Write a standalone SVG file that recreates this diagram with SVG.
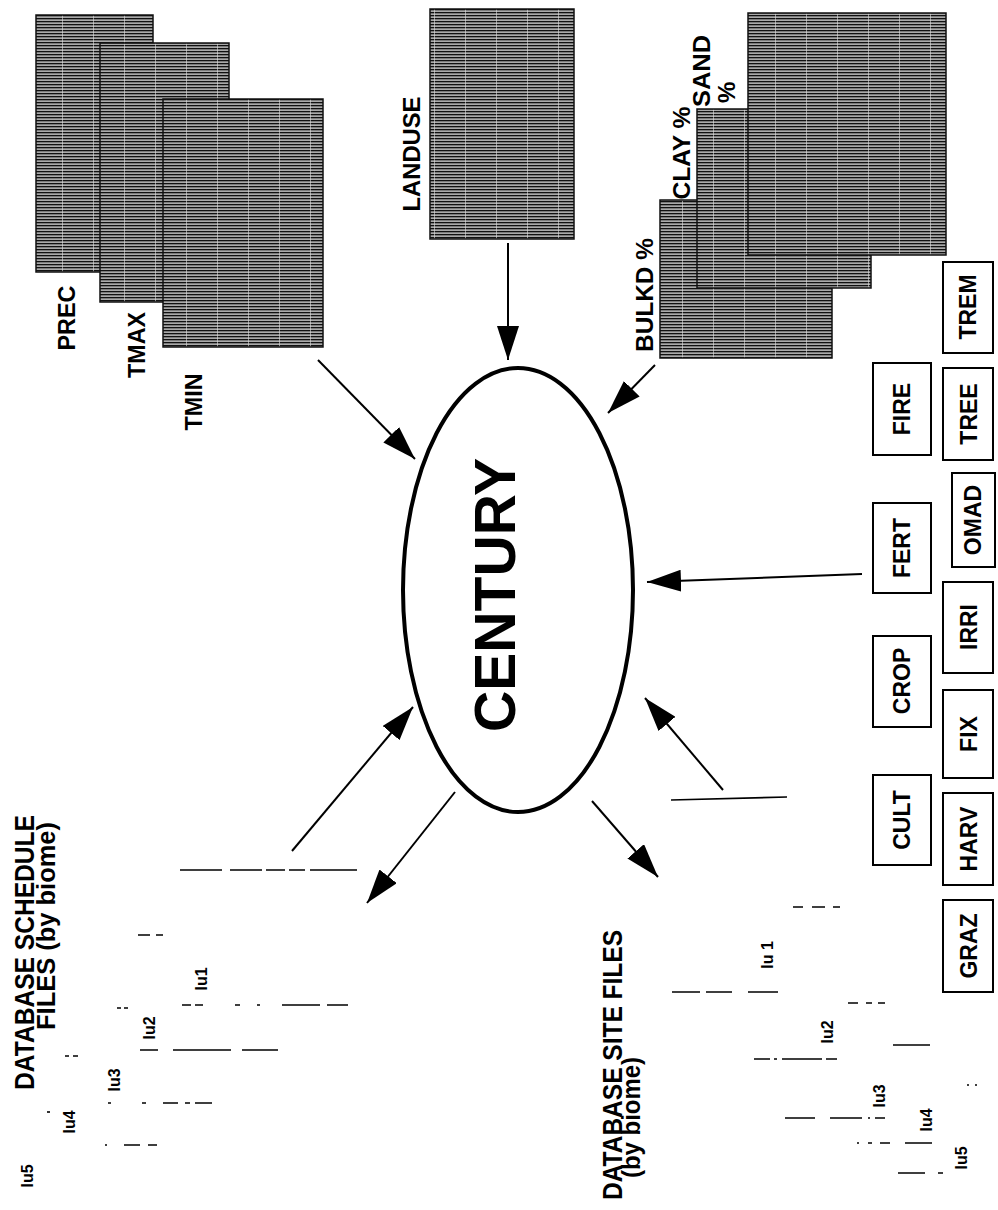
<svg xmlns="http://www.w3.org/2000/svg" width="998" height="1210" viewBox="0 0 998 1210">
  <style>
    .lbl { font-family: "Liberation Sans", Arial, sans-serif; font-weight: bold; fill: #000; }
    .lu { font-family: "Liberation Sans", Arial, sans-serif; font-weight: bold; font-size: 16px; fill: #000; }
    .grid { fill: url(#hatch); stroke: #111; stroke-width: 1.5; }
    .box { fill: #fff; stroke: #000; stroke-width: 2; }
    .conn { stroke: #000; stroke-width: 2; fill: none; }
    .rec { stroke: #000; stroke-width: 1.6; fill: none; }
  </style>
  <defs>
    <!-- scanned raster-map texture: dense dark scan lines with faint column seams -->
    <pattern id="hatch" patternUnits="userSpaceOnUse" width="31" height="3">
      <rect width="31" height="3" fill="#a9a9a9"/>
      <rect width="31" height="1.3" fill="#111"/>
      <rect width="1" height="3" fill="#e0e0e0" opacity="0.6"/>
    </pattern>
    <marker id="head" markerUnits="userSpaceOnUse" markerWidth="34" markerHeight="22" refX="34" refY="11" orient="auto">
      <path d="M0,0 L34,11 L0,22 Z" fill="#000"/>
    </marker>
  </defs>
  <rect width="998" height="1210" fill="#fff"/>

  <!-- climate layers -->
  <g id="prec">
    <rect class="grid" x="36" y="15" width="117" height="257"/>
    <text class="lbl" font-size="24" text-anchor="middle" textLength="65" lengthAdjust="spacingAndGlyphs" transform="translate(75,318) rotate(-90)">PREC</text>
  </g>
  <g id="tmax">
    <rect class="grid" x="100" y="43" width="129" height="259"/>
    <text class="lbl" font-size="24" text-anchor="middle" textLength="66" lengthAdjust="spacingAndGlyphs" transform="translate(145,345) rotate(-90)">TMAX</text>
  </g>
  <g id="tmin">
    <rect class="grid" x="163" y="99" width="160" height="248"/>
    <text class="lbl" font-size="24" text-anchor="middle" textLength="57" lengthAdjust="spacingAndGlyphs" transform="translate(202,402) rotate(-90)">TMIN</text>
  </g>

  <!-- land use layer -->
  <g id="landuse">
    <rect class="grid" x="430" y="9" width="144" height="230"/>
    <text class="lbl" font-size="24" text-anchor="middle" textLength="115" lengthAdjust="spacingAndGlyphs" transform="translate(420,154) rotate(-90)">LANDUSE</text>
  </g>

  <!-- soil layers -->
  <g id="bulkd">
    <rect class="grid" x="660" y="200" width="172" height="158"/>
    <text class="lbl" font-size="24" text-anchor="middle" textLength="114" lengthAdjust="spacingAndGlyphs" transform="translate(653,295) rotate(-90)">BULKD %</text>
  </g>
  <g id="clay">
    <rect class="grid" x="697" y="109" width="174" height="179"/>
    <text class="lbl" font-size="24" text-anchor="middle" textLength="93" lengthAdjust="spacingAndGlyphs" transform="translate(690,153) rotate(-90)">CLAY %</text>
  </g>
  <g id="sand">
    <rect class="grid" x="748" y="13" width="198" height="242"/>
    <text class="lbl" font-size="24" text-anchor="start" textLength="72" lengthAdjust="spacingAndGlyphs" transform="translate(710,107) rotate(-90)">SAND</text>
    <text class="lbl" font-size="24" text-anchor="start" transform="translate(735,103) rotate(-90)">%</text>
  </g>

  <!-- model -->
  <g id="century">
    <ellipse cx="518" cy="590" rx="115" ry="222" fill="#fff" stroke="#000" stroke-width="4"/>
    <text class="lbl" font-size="57" text-anchor="middle" textLength="274" lengthAdjust="spacingAndGlyphs" transform="translate(515,595) rotate(-90)">CENTURY</text>
  </g>

  <!-- management event files -->
  <g id="fire"><rect class="box" x="873" y="363" width="58" height="92"/><text class="lbl" font-size="23" text-anchor="middle" transform="translate(910,409) rotate(-90)">FIRE</text></g>
  <g id="fert"><rect class="box" x="873" y="503" width="58" height="90"/><text class="lbl" font-size="23" text-anchor="middle" transform="translate(910,548) rotate(-90)">FERT</text></g>
  <g id="crop"><rect class="box" x="873" y="636" width="58" height="91"/><text class="lbl" font-size="23" text-anchor="middle" transform="translate(910,681) rotate(-90)">CROP</text></g>
  <g id="cult"><rect class="box" x="873" y="775" width="58" height="90"/><text class="lbl" font-size="23" text-anchor="middle" transform="translate(910,820) rotate(-90)">CULT</text></g>
  <g id="trem"><rect class="box" x="943" y="262" width="50" height="91"/><text class="lbl" font-size="23" text-anchor="middle" transform="translate(976,307) rotate(-90)">TREM</text></g>
  <g id="tree"><rect class="box" x="943" y="368" width="50" height="92"/><text class="lbl" font-size="23" text-anchor="middle" transform="translate(977,414) rotate(-90)">TREE</text></g>
  <g id="omad"><rect class="box" x="952" y="473" width="43" height="94"/><text class="lbl" font-size="23" text-anchor="middle" transform="translate(981,520) rotate(-90)">OMAD</text></g>
  <g id="irri"><rect class="box" x="943" y="582" width="50" height="91"/><text class="lbl" font-size="23" text-anchor="middle" transform="translate(977,627) rotate(-90)">IRRI</text></g>
  <g id="fix"><rect class="box" x="943" y="690" width="50" height="88"/><text class="lbl" font-size="23" text-anchor="middle" transform="translate(977,734) rotate(-90)">FIX</text></g>
  <g id="harv"><rect class="box" x="943" y="793" width="50" height="92"/><text class="lbl" font-size="23" text-anchor="middle" transform="translate(977,839) rotate(-90)">HARV</text></g>
  <g id="graz"><rect class="box" x="943" y="900" width="50" height="92"/><text class="lbl" font-size="23" text-anchor="middle" transform="translate(977,946) rotate(-90)">GRAZ</text></g>

  <!-- schedule files by biome -->
  <g id="schedule-files">
    <text class="lbl" font-size="28" text-anchor="start" textLength="275" lengthAdjust="spacingAndGlyphs" transform="translate(34,1090) rotate(-90)">DATABASE SCHEDULE</text>
    <text class="lbl" font-size="25" text-anchor="start" textLength="208" lengthAdjust="spacingAndGlyphs" transform="translate(55,1030) rotate(-90)">FILES (by biome)</text>
    <path class="rec" d="M180,870 H222 M230,870 H262 M266,870 H285 M289,870 H305 M310,870 H357"/>
    <path class="rec" d="M138,935 H150 M156,935 H163"/>
    <path class="rec" d="M182,1005 H191 M195,1005 H203 M235,1005 H240 M257,1005 H260 M282,1005 H320 M327,1005 H348"/>
    <path class="rec" d="M117,1008 H121 M124,1008 H128"/>
    <path class="rec" d="M140,1050 H158 M173,1050 H231 M242,1050 H278"/>
    <path class="rec" d="M65,1056 H69 M73,1056 H78"/>
    <path class="rec" d="M108,1103 H111 M142,1103 H146 M163,1103 H178 M185,1103 H190 M195,1103 H212"/>
    <path class="rec" d="M47,1112 H50"/>
    <path class="rec" d="M105,1145 H107 M124,1145 H140 M148,1145 H157"/>
    <text class="lu" text-anchor="middle" transform="translate(207,979) rotate(-90)">lu1</text>
    <text class="lu" text-anchor="middle" transform="translate(155,1028) rotate(-90)">lu2</text>
    <text class="lu" text-anchor="middle" transform="translate(120,1080) rotate(-90)">lu3</text>
    <text class="lu" text-anchor="middle" transform="translate(75,1122) rotate(-90)">lu4</text>
    <text class="lu" text-anchor="middle" transform="translate(33,1176) rotate(-90)">lu5</text>
  </g>

  <!-- site files by biome -->
  <g id="site-files">
    <text class="lbl" font-size="28" text-anchor="start" textLength="270" lengthAdjust="spacingAndGlyphs" transform="translate(622,1200) rotate(-90)">DATABASE SITE FILES</text>
    <text class="lbl" font-size="25" text-anchor="start" textLength="121" lengthAdjust="spacingAndGlyphs" transform="translate(640,1178) rotate(-90)">(by biome)</text>
    <path class="rec" d="M671,800 L787,797"/>
    <path class="rec" d="M793,907 H803 M812,907 H825 M833,907 H840"/>
    <path class="rec" d="M672,992 H700 M706,992 H732 M748,992 H778"/>
    <path class="rec" d="M848,1003 H858 M866,1003 H872 M878,1003 H885"/>
    <path class="rec" d="M893,1045 H930"/>
    <path class="rec" d="M754,1059 H770 M774,1059 H777 M782,1059 H822 M826,1059 H837"/>
    <path class="rec" d="M967,1085 H969 M975,1085 H977"/>
    <path class="rec" d="M785,1118 H815 M830,1118 H862 M868,1118 H870 M875,1118 H885"/>
    <path class="rec" d="M857,1143 H859 M868,1143 H872 M880,1143 H890 M905,1143 H932"/>
    <path class="rec" d="M898,1173 H925 M938,1173 H943"/>
    <text class="lu" text-anchor="middle" transform="translate(773,955) rotate(-90)">lu 1</text>
    <text class="lu" text-anchor="middle" transform="translate(833,1032) rotate(-90)">lu2</text>
    <text class="lu" text-anchor="middle" transform="translate(885,1096) rotate(-90)">lu3</text>
    <text class="lu" text-anchor="middle" transform="translate(932,1120) rotate(-90)">lu4</text>
    <text class="lu" text-anchor="middle" transform="translate(967,1158) rotate(-90)">lu5</text>
  </g>

  <!-- data flows into and out of the model -->
  <g id="connectors">
    <line class="conn" x1="318" y1="360" x2="415" y2="459" marker-end="url(#head)"/>
    <line class="conn" x1="508" y1="243" x2="508" y2="360" marker-end="url(#head)"/>
    <line class="conn" x1="655" y1="365" x2="608" y2="413" marker-end="url(#head)"/>
    <line class="conn" x1="862" y1="574" x2="647" y2="582" marker-end="url(#head)"/>
    <line class="conn" x1="723" y1="790" x2="645" y2="698" marker-end="url(#head)"/>
    <line class="conn" x1="592" y1="801" x2="658" y2="877" marker-end="url(#head)"/>
    <line class="conn" x1="292" y1="851" x2="413" y2="707" marker-end="url(#head)"/>
    <line class="conn" x1="455" y1="792" x2="367" y2="903" marker-end="url(#head)"/>
  </g>
</svg>
